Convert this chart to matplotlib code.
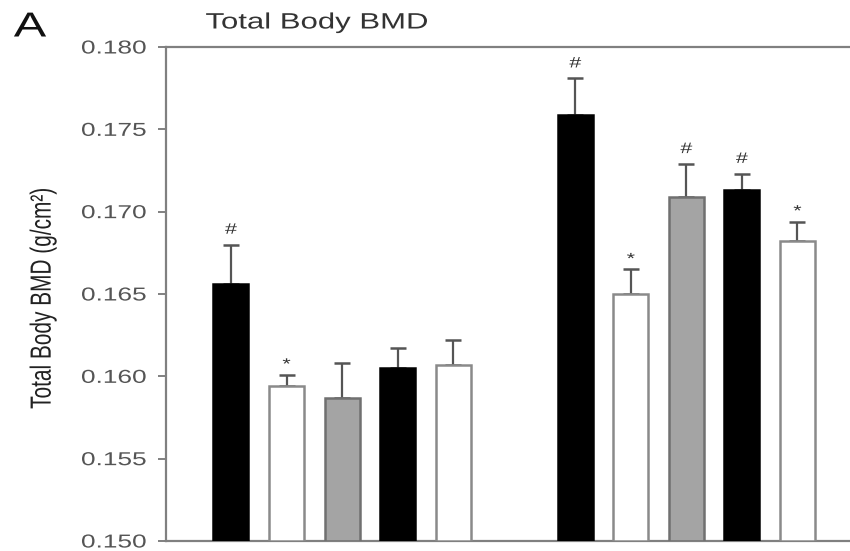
import matplotlib
matplotlib.use("Agg")
import matplotlib.pyplot as plt
import numpy as np
from matplotlib.patheffects import AbstractPathEffect
from matplotlib.transforms import Affine2D

plt.rcParams['font.family'] = ['Liberation Sans', 'DejaVu Sans']

# Mean total body BMD (g/cm^2) and SEM for the two groups of five bars
means_g1 = [0.1656, 0.1594, 0.1587, 0.1605, 0.1607]
err_g1 = [0.0024, 0.0007, 0.0021, 0.0012, 0.0015]
marks_g1 = ['#', '*', '', '', '']

means_g2 = [0.1759, 0.1650, 0.1709, 0.1713, 0.1682]
err_g2 = [0.0022, 0.0015, 0.0020, 0.0010, 0.0012]
marks_g2 = ['#', '*', '#', '#', '*']

yticks = [0.150, 0.155, 0.160, 0.165, 0.170, 0.175, 0.180]
ytick_labels = ['0.150', '0.155', '0.160', '0.165', '0.170', '0.175', '0.180']

face_colors = ['black', 'white', '#a4a4a4', 'black', 'white']
edge_colors = ['black', '#8a8a8a', '#707070', 'black', '#8a8a8a']


class Widen(AbstractPathEffect):
    """Stretch text glyphs horizontally about an anchor."""

    def __init__(self, sx=1.4, anchor='center'):
        super().__init__()
        self.sx = sx
        self.anchor = anchor

    def draw_path(self, renderer, gc, tpath, affine, rgbFace=None):
        ext = tpath.get_extents(affine)
        x0 = {'left': ext.x0, 'right': ext.x1,
              'center': 0.5 * (ext.x0 + ext.x1)}[self.anchor]
        aff = affine + Affine2D().translate(-x0, 0).scale(self.sx, 1).translate(x0, 0)
        renderer.draw_path(gc, tpath, aff, rgbFace)


SX = 1.4

fig = plt.figure(figsize=(8.5, 5.51), dpi=100)
ax = fig.add_axes([166 / 850, 1 - 541 / 551, 1 - 166 / 850 + 0.01, (541 - 47) / 551])

x1 = np.arange(5)
x2 = np.arange(5) + 6.2
width = 0.63

for xs, means, errs, marks in [(x1, means_g1, err_g1, marks_g1),
                               (x2, means_g2, err_g2, marks_g2)]:
    base = 0.150
    heights = np.array(means) - base
    ax.errorbar(xs, means, yerr=[np.zeros(5), errs], fmt='none',
                ecolor='#555555', elinewidth=1.6, capsize=6, capthick=1.8, zorder=2)
    ax.bar(xs, heights, bottom=base, width=width, color=face_colors,
           edgecolor=edge_colors, linewidth=1.8, zorder=3)
    for x, m, e, s in zip(xs, means, errs, marks):
        if s:
            off = 0.0009 if s == '#' else 0.0006
            t = ax.text(x, m + e + off, s, ha='center', va='center',
                        fontsize=11, color='#333333')
            t.set_path_effects([Widen(SX)])

ax.set_ylim(0.150, 0.180)
ax.set_xlim(-1.17, 11.3)
ax.set_yticks(yticks)
ax.set_yticklabels(ytick_labels)
ax.set_xticks([])

for side in ['right']:
    ax.spines[side].set_visible(False)
for side in ['left', 'top', 'bottom']:
    ax.spines[side].set_color('#808080')
    ax.spines[side].set_linewidth(1.6)

ax.tick_params(axis='y', direction='out', length=6, width=1.4, color='#808080',
               labelsize=13.5, labelcolor='#555555', pad=8)
for lbl in ax.get_yticklabels():
    lbl.set_path_effects([Widen(SX, 'right')])

ylab = fig.text(43 / 850, 1 - 298 / 551, 'Total Body BMD (g/cm²)', rotation=90,
                ha='center', va='center', fontsize=15, color='#222222')
ylab.set_path_effects([Widen(SX)])

title = fig.text(317 / 850, 1 - 23 / 551, 'Total Body BMD', ha='center', va='center',
                 fontsize=16, color='#333333')
title.set_path_effects([Widen(SX)])

panel = fig.text(30 / 850, 1 - 27 / 551, 'A', ha='center', va='center',
                 fontsize=25, color='#111111')
panel.set_path_effects([Widen(SX)])

fig.savefig('out.png', dpi=100)
